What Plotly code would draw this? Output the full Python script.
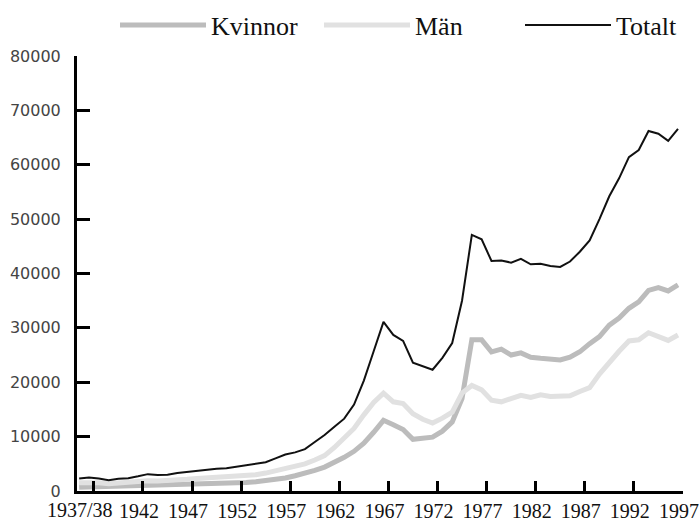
import plotly.graph_objects as go

# Academic years 1935/36 ... 1996/97 (start year)
years = list(range(1935, 1997))

kvinnor = [700, 750, 700, 650, 700, 750, 800, 850, 900, 950,
           1000, 1050, 1100, 1150, 1250, 1350, 1450, 1550, 1700, 1900,
           2100, 2400, 2800, 3200, 3800, 4400, 5200, 6200, 7300, 8800,
           10800, 13000, 12200, 11300, 9500, 9700, 9900, 11000, 12700, 17000,
           27800, 27800, 25600, 26100, 25000, 25400, 24600, 24400, 24200, 24100,
           24600, 25600, 27100, 28400, 30500, 31800, 33600, 34800, 36900, 37400,
           36800, 37900]

man = [1500, 1600, 1500, 1350, 1500, 1550, 1700, 1900, 1850, 1900,
       2000, 2150, 2300, 2400, 2500, 2600, 2700, 2850, 3000, 3300,
       3700, 4200, 4600, 5000, 5700, 6500, 8000, 9700, 11500, 14000,
       16300, 18000, 16400, 16100, 14200, 13200, 12500, 13400, 14500, 18000,
       19400, 18600, 16700, 16400, 17100, 17600, 17200, 17700, 17400, 17400,
       17500, 18300, 19000, 21500, 23700, 25700, 27600, 27800, 29100, 28400,
       27700, 28700]

totalt = [2300, 2500, 2300, 2000, 2250, 2350, 2700, 3100, 2950, 3000,
          3300, 3500, 3750, 3950, 4100, 4200, 4450, 4750, 5000, 5300,
          6000, 6700, 7100, 7700, 9000, 10300, 11800, 13300, 15900, 20300,
          25700, 31100, 28700, 27600, 23600, 23000, 22300, 24500, 27200, 35000,
          47100, 46300, 42300, 42400, 42000, 42700, 41700, 41800, 41400, 41200,
          42200, 44000, 46100, 50000, 54200, 57500, 61400, 62700, 66200, 65700,
          64400, 66600]

x_tick_years = [1937, 1942, 1947, 1952, 1957, 1962, 1967, 1972, 1977, 1982, 1987, 1992, 1997]
x_tick_labels = ["", "1942", "1947", "1952", "1957", "1962", "1967", "1972",
                 "1977", "1982", "1987", "1992", "1997"]
first_label = "1937/38"
y_ticks = [0, 10000, 20000, 30000, 40000, 50000, 60000, 70000, 80000]
y_tick_labels = [str(v) for v in y_ticks]

x = [y + 0.5 for y in years]

serif = "Liberation Serif"

fig = go.Figure()
fig.add_trace(go.Scatter(x=x, y=kvinnor, mode="lines", name="Kvinnor", legend="legend",
                         line=dict(color="#bcbcbc", width=5)))
fig.add_trace(go.Scatter(x=x, y=man, mode="lines", name="Män", legend="legend2",
                         line=dict(color="#e1e1e1", width=5)))
fig.add_trace(go.Scatter(x=x, y=totalt, mode="lines", name="Totalt", legend="legend3",
                         line=dict(color="#111111", width=2)))

def leg(xpos):
    return dict(orientation="h", x=xpos, y=1 - 25 / 521, xref="container", yref="container",
                xanchor="left", yanchor="middle", itemwidth=86,
                font=dict(family=serif, size=26, color="#111"),
                bgcolor="rgba(0,0,0,0)")

fig.update_layout(
    width=699, height=521,
    margin=dict(l=77, r=16, t=56, b=30, autoexpand=False),
    paper_bgcolor="white", plot_bgcolor="white",
    showlegend=True,
    legend=leg((123 - 8) / 699),
    legend2=leg((327 - 8) / 699),
    legend3=leg((528 - 8) / 699),
    xaxis=dict(range=[1935.28, 1997.01], tickmode="array", tickvals=x_tick_years,
               ticktext=x_tick_labels, ticks="inside", ticklen=10, tickwidth=3,
               tickcolor="black", showline=True, linecolor="black", linewidth=3,
               showgrid=False, zeroline=False, automargin=False,
               ticklabelshift=-4, ticklabeloverflow="allow",
               tickfont=dict(family=serif, size=20, color="#111")),
    yaxis=dict(range=[0, 80000], tickmode="array", tickvals=y_ticks, ticktext=y_tick_labels,
               ticks="inside", ticklen=13, tickwidth=3, tickcolor="black",
               showline=True, linecolor="black", linewidth=3,
               showgrid=False, zeroline=False, automargin=False,
               ticklabelstandoff=10,
               tickfont=dict(family="DejaVu Sans", size=16, color="#444")),
    annotations=[dict(text=first_label, x=1937, y=0, xref="x", yref="paper",
                      xanchor="right", yanchor="top", xshift=21, yshift=-6,
                      showarrow=False,
                      font=dict(family=serif, size=20, color="#111"))],
)

fig.write_html("out.html", config={"displayModeBar": False},
               post_script="document.body.style.margin='0';")
